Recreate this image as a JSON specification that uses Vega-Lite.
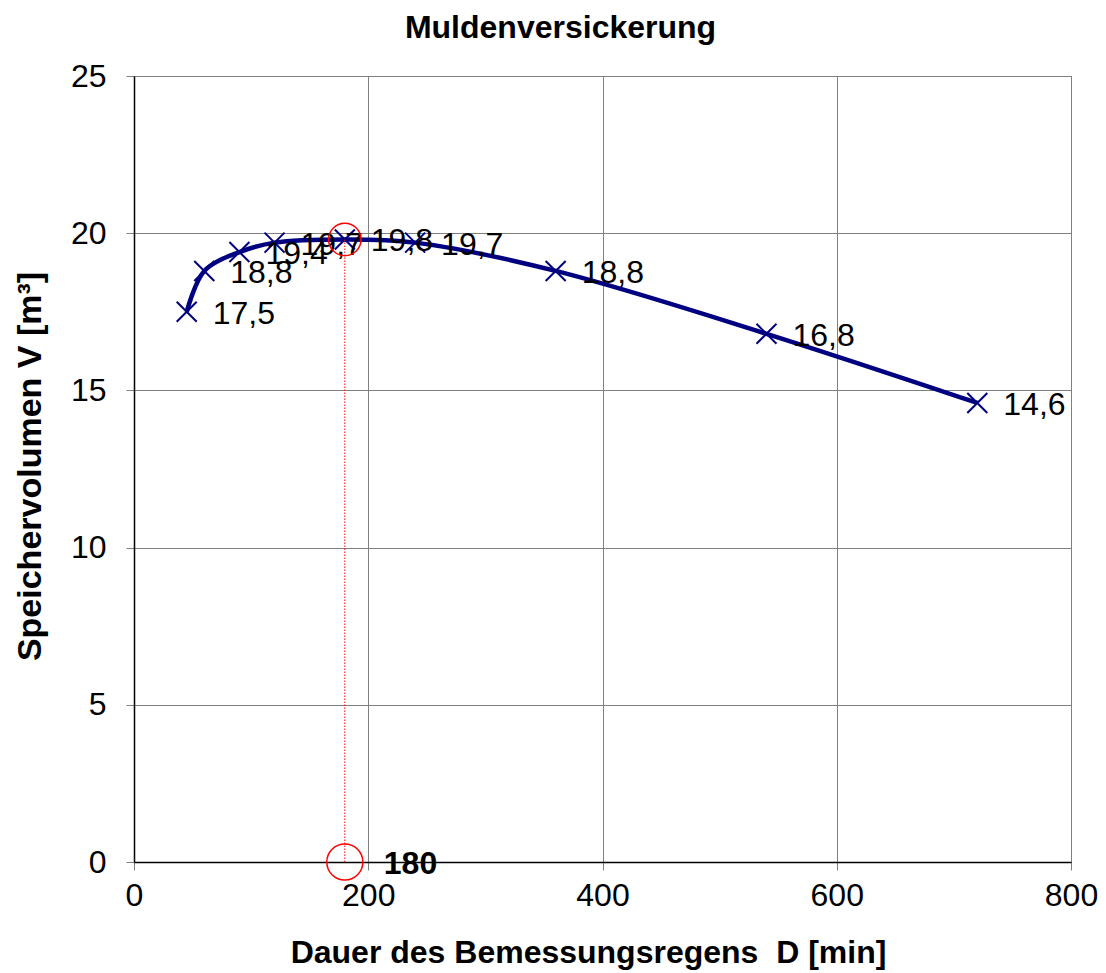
{
  "$schema": "https://vega.github.io/schema/vega-lite/v6.json",
  "autosize": "none",
  "width": 937,
  "height": 786,
  "padding": {"left": 134, "top": 76, "right": 35, "bottom": 111},
  "background": "white",
  "title": {"text": "Muldenversickerung", "font": "Liberation Sans", "fontSize": 32, "fontWeight": "bold", "color": "black", "offset": 15, "anchor": "middle", "dx": -42},
  "config": {
    "view": {"stroke": "#808080", "strokeWidth": 1},
    "axis": {
      "labelFont": "Liberation Sans", "labelFontSize": 32, "labelColor": "black",
      "titleFont": "Liberation Sans", "titleFontSize": 32, "titleFontWeight": "bold", "titleColor": "black",
      "gridColor": "#808080", "gridWidth": 1, "gridOpacity": 1,
      "domainColor": "black", "domainWidth": 1.5,
      "tickColor": "#808080", "tickSize": 8
    }
  },
  "datasets": {
    "series": [
      {"D": 45, "V": 17.5, "label": "17,5"},
      {"D": 60, "V": 18.8, "label": "18,8"},
      {"D": 90, "V": 19.4, "label": "19,4"},
      {"D": 120, "V": 19.7, "label": "19,7"},
      {"D": 180, "V": 19.8, "label": "19,8"},
      {"D": 240, "V": 19.7, "label": "19,7"},
      {"D": 360, "V": 18.8, "label": "18,8"},
      {"D": 540, "V": 16.8, "label": "16,8"},
      {"D": 720, "V": 14.6, "label": "14,6"}
    ],
    "marker": [
      {"D": 180, "Vtop": 19.8, "Vbot": 0, "label": "180"}
    ]
  },
  "layer": [
    {
      "data": {"name": "series"},
      "mark": {"type": "line", "color": "#000080", "strokeWidth": 4.5, "interpolate": "catmull-rom"},
      "encoding": {
        "x": {"field": "D", "type": "quantitative", "scale": {"domain": [0, 800], "nice": false},
          "axis": {"title": "Dauer des Bemessungsregens\u00a0 D [min]", "values": [0, 200, 400, 600, 800], "labelPadding": 10, "titlePadding": 26, "labelFlush": false, "titleX": 454}},
        "y": {"field": "V", "type": "quantitative", "scale": {"domain": [0, 25], "nice": false},
          "axis": {"title": "Speichervolumen V [m³]", "values": [0, 5, 10, 15, 20, 25], "labelPadding": 20, "titlePadding": 23, "titleFontSize": 34, "titleY": 390}}
      }
    },
    {
      "data": {"name": "series"},
      "mark": {"type": "point", "shape": "M-1,-1L1,1M-1,1L1,-1", "filled": false, "stroke": "#000080", "strokeWidth": 2, "size": 400, "opacity": 1},
      "encoding": {
        "x": {"field": "D", "type": "quantitative"},
        "y": {"field": "V", "type": "quantitative"}
      }
    },
    {
      "data": {"name": "series"},
      "mark": {"type": "text", "align": "left", "baseline": "middle", "dx": 26, "dy": 2, "font": "Liberation Sans", "fontSize": 32, "color": "black"},
      "encoding": {
        "x": {"field": "D", "type": "quantitative"},
        "y": {"field": "V", "type": "quantitative"},
        "text": {"field": "label"}
      }
    },
    {
      "data": {"name": "marker"},
      "mark": {"type": "rule", "color": "red", "strokeWidth": 1, "strokeDash": [1.5, 1.5]},
      "encoding": {
        "x": {"field": "D", "type": "quantitative"},
        "y": {"field": "Vtop", "type": "quantitative"},
        "y2": {"field": "Vbot"}
      }
    },
    {
      "data": {"name": "marker"},
      "mark": {"type": "point", "shape": "circle", "filled": false, "stroke": "red", "strokeWidth": 1.5, "size": 1050, "opacity": 1},
      "encoding": {
        "x": {"field": "D", "type": "quantitative"},
        "y": {"field": "Vtop", "type": "quantitative"}
      }
    },
    {
      "data": {"name": "marker"},
      "mark": {"type": "point", "shape": "circle", "filled": false, "stroke": "red", "strokeWidth": 1.5, "size": 1300, "opacity": 1},
      "encoding": {
        "x": {"field": "D", "type": "quantitative"},
        "y": {"field": "Vbot", "type": "quantitative"}
      }
    },
    {
      "data": {"name": "marker"},
      "mark": {"type": "text", "align": "left", "baseline": "middle", "dx": 39, "dy": 2, "font": "Liberation Sans", "fontSize": 32, "fontWeight": "bold", "color": "black"},
      "encoding": {
        "x": {"field": "D", "type": "quantitative"},
        "y": {"field": "Vbot", "type": "quantitative"},
        "text": {"field": "label"}
      }
    }
  ]
}
